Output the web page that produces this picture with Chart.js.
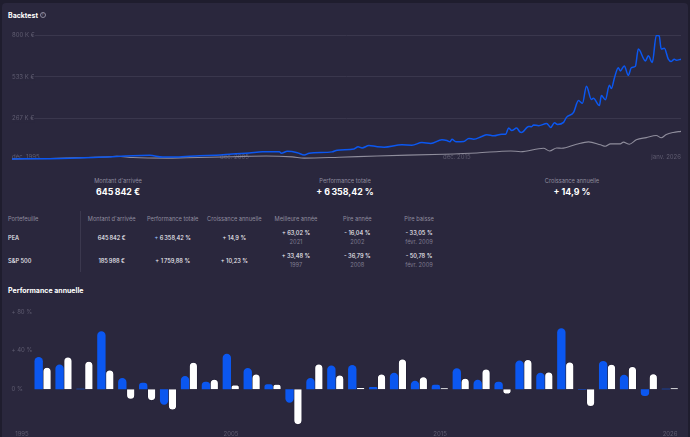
<!DOCTYPE html>
<html lang="fr">
<head>
<meta charset="utf-8">
<title>Backtest</title>
<script src="https://cdn.jsdelivr.net/npm/chart.js@4"></script>
<style>
  html, body { margin: 0; padding: 0; background: #1f1d2e; }
  body { width: 690px; height: 437px; overflow: hidden; position: relative; font-family: Inter, "Noto Sans", sans-serif; color: #f2f1f6; }
  #card { position: absolute; left: 2px; top: 3px; width: 686px; height: 440px; background: #2a273d; border-radius: 4px; }
  canvas { position: absolute; left: 0; display: block; }
  .t { position: absolute; white-space: nowrap; line-height: 1; transform: translate(-50%, -50%); }
  .left { transform: translate(0, -50%); }
  .head { font-size: 5.7px; color: #8f8c9f; }
  .cell { font-size: 5.7px; font-weight: 500; color: #ecebf2; }
  .sub { font-size: 5.7px; color: #7f7c90; }
  .title { font-size: 7px; font-weight: 700; color: #fff; }
  .big { font-size: 8.8px; font-weight: 700; color: #fff; }
  .plus { color: #9cc3ff; }
  #help { position: absolute; left: 39.5px; top: 11.5px; width: 4px; height: 4px; line-height: 4px; border: 0.7px solid #8f8c9f; border-radius: 50%; font-size: 4px; text-align: center; color: #8f8c9f; }
  #divider { position: absolute; left: 80px; top: 211px; width: 1px; height: 61px; background: #3b384e; }
</style>
</head>
<body>
<div id="card"></div>
<canvas id="lineChart" width="690" height="140" style="top:27px"></canvas>
<canvas id="barChart" width="690" height="136" style="top:301px"></canvas>
<div id="help">?</div>
<div id="divider"></div>
<div id="texts"></div>
<script>
// portfolio value in K EUR, dated in decimal years
var peaDates = [1995.92,1997.62,1998.52,2000.09,2001.35,2002.11,2002.69,2003.32,2004.35,2005.11,2005.83,2006.59,2007.18,2007.94,2008.03,2008.3,2008.75,2009.06,2009.28,2010.31,2010.54,2011.3,2011.48,2011.66,2011.97,2012.29,2012.65,2013.45,2013.9,2014.35,2014.75,2015.25,2015.47,2015.61,2015.7,2015.88,2016.23,2016.46,2016.68,2017.04,2017.27,2017.58,2017.94,2018.12,2018.25,2018.39,2018.61,2018.75,2018.83,2019.15,2019.28,2019.37,2019.6,2019.96,2020.14,2020.31,2020.45,2020.72,2020.85,2021.17,2021.39,2021.57,2021.75,2021.97,2022.06,2022.33,2022.42,2022.6,2022.78,2022.87,2023.01,2023.18,2023.27,2023.45,2023.63,2023.77,2023.95,2024.08,2024.4,2024.53,2024.71,2024.89,2025.02,2025.11,2025.25,2025.43,2025.56,2025.7,2025.79,2026];
var peaValues = [10,11.6,14,22.5,31,33,22.5,22.5,31,33,42,48,55,55,46,59,50,35,46,55,66,74,87,80,95,89,85,100,98,114,108,132,127,119,135,119,121,140,136,153,164,157,168,168,207,191,207,183,179,217,215,226,222,236,211,241,230,243,275,307,382,365,474,389,397,350,414,387,479,459,528,592,571,603,543,592,601,710,635,667,625,798,794,710,715,646,631,646,639,645.842];
var spDates = [1995.92,1997.62,1998.97,2000.31,2000.63,2001.35,2002.87,2003.77,2005.83,2007.35,2008.52,2009.06,2010.63,2012.33,2015.33,2016.82,2018.34,2018.79,2019.82,2020.09,2020.41,2020.63,2021.3,2021.84,2022.38,2022.6,2022.83,2023.27,2023.41,2023.68,2023.99,2024.44,2024.89,2025.11,2025.34,2025.65,2026];
var spValues = [10,13,18,24,27,19,15,18,24,29,23,15,21,29,40,48,61,56,78,61,80,78,104,119,100,91,106,106,117,104,132,146,159,145,166,179,185.988];

var dateTicks = [1995.92,2005.92,2015.92,2026];
var dateLabels = ['déc. 1995','déc. 2005','déc. 2015','janv. 2026'];
var valueTicks = [800,533,267];

// yearly returns in percent
var years = ['1995','1996','1997','1998','1999','2000','2001','2002','2003','2004','2005','2006','2007','2008','2009','2010','2011','2012','2013','2014','2015','2016','2017','2018','2019','2020','2021','2022','2023','2024','2025','2026'];
var peaYearly = [0,33.2,25.5,0.5,60,11.5,6.6,-16.04,13.6,7.7,36.6,22,5.2,-14,11.5,24.4,25,2.4,17,8.7,4.5,21.6,9.8,7.7,29.7,17,63.02,-0.5,29.3,15,-7,0.5];
var spYearly = [0,22.7,33.48,29,20,-10.5,-12,-21.6,28,10.5,4.5,15.7,5.2,-36.79,26.2,14.7,1.8,15.7,31.4,13,1.5,11.5,21,-5,30.7,18,28.3,-18,25.8,23.7,16,1.5];
var yearLabels = ['1995','2005','2015','2026'];
var percentTicks = [80,40,0];

var tableHeads = ["Montant d'arrivée",'Performance totale','Croissance annuelle','Meilleure année','Pire année','Pire baisse'];
var tableCols = [111.7,172.7,234.3,296,357.3,419];
var peaRow = ['645\u202f842 €','+ 6\u202f358,42 %','+ 14,9 %','+ 63,02 %','- 16,04 %','- 33,05 %'];
var peaSub = ['','','','2021','2002','févr. 2009'];
var spRow = ['185\u202f988 €','+ 1\u202f759,88 %','+ 10,23 %','+ 33,48 %','- 36,79 %','- 50,78 %'];
var spSub = ['','','','1997','2008','févr. 2009'];

var blue = '#0b57f0';
var card = '#2a273d';
var dim = '#5f5c70';
var tickFont = { family: 'Inter', size: 6 };

var box = document.getElementById('texts');
function put(text, x, y, cls) {
  var el = document.createElement('div');
  el.className = 't ' + cls;
  el.style.left = x + 'px';
  el.style.top = y + 'px';
  el.textContent = text;
  box.appendChild(el);
  return el;
}

put('Backtest', 8, 14.5, 'title left');
put('Performance annuelle', 8, 290, 'title left');

put("Montant d'arrivée", 118, 181, 'head');
put('645\u202f842 €', 118, 192, 'big');
put('Performance totale', 345, 181, 'head');
put('+ 6\u202f358,42 %', 345, 192, 'big');
put('Croissance annuelle', 572, 181, 'head');
put('+ 14,9 %', 572, 192, 'big');

put('Portefeuille', 8, 218.5, 'head left');
put('PEA', 8, 237.5, 'cell left');
put('S&P 500', 8, 260.5, 'cell left');
tableCols.forEach(function(x, i) {
  put(tableHeads[i], x, 218.5, 'head');
  if (peaSub[i]) {
    put(peaRow[i], x, 233.3, 'cell');
    put(peaSub[i], x, 241.5, 'sub');
    put(spRow[i], x, 256.3, 'cell');
    put(spSub[i], x, 264.5, 'sub');
  } else {
    var el = put(peaRow[i], x, 237.5, 'cell');
    if (i === 1) {
      el.innerHTML = '<span class="plus">+</span> 6\u202f358,42 %';
    }
    put(spRow[i], x, 260.5, 'cell');
  }
});

function toPoints(xs, ys) {
  return xs.map(function(x, i) { return { x: x, y: ys[i] }; });
}

new Chart(document.getElementById('lineChart'), {
  type: 'line',
  data: {
    datasets: [{
      label: 'PEA',
      data: toPoints(peaDates, peaValues),
      borderColor: blue,
      borderWidth: 1.5,
      pointRadius: 0,
      cubicInterpolationMode: 'monotone'
    }, {
      label: 'S&P 500',
      data: toPoints(spDates, spValues),
      borderColor: '#8f8d9c',
      borderWidth: 1.1,
      pointRadius: 0,
      cubicInterpolationMode: 'monotone'
    }]
  },
  options: {
    responsive: false,
    animation: false,
    layout: { padding: { left: 12, right: 9, top: 8, bottom: 6.5 } },
    plugins: { legend: { display: false }, tooltip: { enabled: false } },
    scales: {
      x: {
        type: 'linear',
        min: dateTicks[0],
        max: dateTicks[3],
        afterBuildTicks: function(axis) {
          axis.ticks = dateTicks.map(function(v) { return { value: v }; });
        },
        grid: { display: false, drawTicks: false },
        border: { display: false },
        ticks: {
          color: dim,
          font: tickFont,
          padding: -7,
          align: 'inner',
          maxRotation: 0,
          autoSkip: false,
          callback: function(v, i) { return dateLabels[i]; }
        }
      },
      y: {
        min: 0,
        max: 800,
        afterBuildTicks: function(axis) {
          axis.ticks = valueTicks.map(function(v) { return { value: v }; });
        },
        grid: { color: '#3a374d', lineWidth: 1, drawTicks: false },
        border: { display: false },
        ticks: {
          color: dim,
          font: tickFont,
          mirror: true,
          padding: 0,
          showLabelBackdrop: true,
          backdropColor: card,
          backdropPadding: 0,
          callback: function(v) { return v + ' K €'; }
        }
      }
    }
  }
});

new Chart(document.getElementById('barChart'), {
  type: 'bar',
  data: {
    labels: years,
    datasets: [{
      label: 'PEA',
      data: peaYearly,
      backgroundColor: blue,
      borderRadius: 6,
      categoryPercentage: 0.8,
      barPercentage: 1
    }, {
      label: 'S&P 500',
      data: spYearly,
      backgroundColor: '#ffffff',
      borderColor: '#16142a',
      borderWidth: 0.6,
      borderRadius: 6,
      categoryPercentage: 0.8,
      barPercentage: 1
    }]
  },
  options: {
    responsive: false,
    animation: false,
    layout: { padding: { left: 11.5, right: 9.5, top: 7, bottom: -2 } },
    plugins: { legend: { display: false }, tooltip: { enabled: false } },
    scales: {
      x: {
        grid: { display: false, drawTicks: false },
        border: { display: false },
        ticks: {
          color: dim,
          font: tickFont,
          padding: 1,
          maxRotation: 0,
          autoSkip: false,
          callback: function(v, i) {
            var year = years[i];
            return yearLabels.indexOf(year) >= 0 ? year : '';
          }
        }
      },
      y: {
        min: -42,
        max: 84,
        afterBuildTicks: function(axis) {
          axis.ticks = percentTicks.map(function(v) { return { value: v }; });
        },
        grid: { display: false, drawTicks: false },
        border: { display: false },
        ticks: {
          color: dim,
          font: tickFont,
          mirror: true,
          padding: 0,
          callback: function(v) { return v === 0 ? '0 %' : '+ ' + v + ' %'; }
        }
      }
    }
  }
});
</script>
</body>
</html>
